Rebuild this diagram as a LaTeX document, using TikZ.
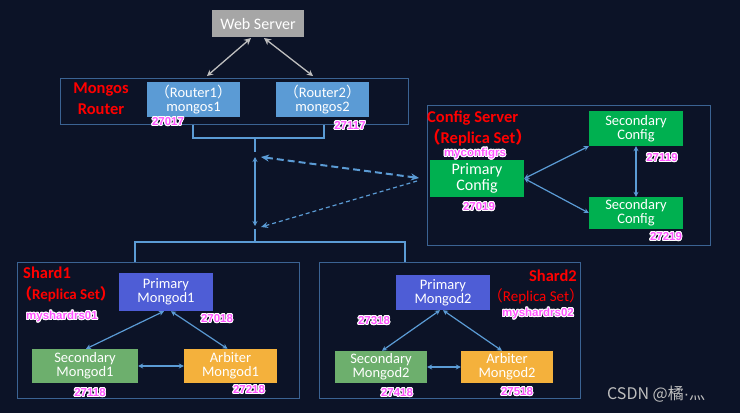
\documentclass[tikz,border=0pt]{standalone}
\usepackage{fontspec}
\setmainfont{Carlito}
\newfontfamily\cjk{Noto Sans CJK SC}
\newfontfamily\portfont{Liberation Sans}
\usepackage[copies]{contour}
\contourlength{0.9pt}
\contournumber{16}
\usetikzlibrary{arrows.meta}
\definecolor{bg}{HTML}{0C1327}
\definecolor{framec}{HTML}{3B6393}
\definecolor{linkc}{HTML}{5B9BD5}
\definecolor{routerc}{HTML}{5B9BD5}
\definecolor{cfgc}{HTML}{00B050}
\definecolor{primc}{HTML}{4E5DD6}
\definecolor{secc}{HTML}{6DAF6D}
\definecolor{arbc}{HTML}{F4B13C}
\definecolor{webc}{HTML}{A6A6A6}
\definecolor{portc}{HTML}{FF55FF}
\definecolor{webarr}{HTML}{BFBFBF}
\newcommand{\lp}{{\cjk （}}
\newcommand{\rp}{{\cjk ）}}
\newcommand{\portlabel}[1]{\contour{white}{\textcolor{portc}{#1}}}
\tikzset{
  box/.style={draw=none, inner sep=0pt, align=center, text=white, font=\fontsize{14.5}{14}\selectfont},
  framebox/.style={draw=framec, line width=1pt, inner sep=0pt},
  link/.style={draw=linkc, line width=1.2pt, {Stealth[length=5pt,width=5pt]}-{Stealth[length=5pt,width=5pt]}},
  plain/.style={draw=linkc, line width=1.2pt},
  port/.style={font=\portfont\bfseries\fontsize{11.5}{12}\selectfont, inner sep=0pt},
  redlab/.style={text=red, font=\bfseries\fontsize{16.5}{17}\selectfont, inner sep=0pt},
  webarrow/.style={draw=webarr, line width=1.3pt, {Stealth[length=7pt,width=7pt]}-{Stealth[length=6pt,width=6pt]}}
}
\begin{document}
\begin{tikzpicture}[x=1pt,y=-1pt]
\useasboundingbox (0,0) rectangle (740,413);
\fill[bg] (0,0) rectangle (740,413);

% Web server
\node[box, fill=webc, minimum width=92pt, minimum height=27pt, font=\fontsize{16}{16}\selectfont] (web) at (258,23.5) {Web Server};

% Mongos router frame
\node[framebox, minimum width=348pt, minimum height=46pt] (mongos) at (234,101) {};
\node[redlab, align=center, font=\bfseries\fontsize{16.5}{21}\selectfont] (mlabel) at (101,99) {Mongos\\Router};
\node[box, fill=routerc, minimum width=93pt, minimum height=35pt] (r1) at (193.5,99.5) {\lp Router1\rp\\mongos1};
\node[box, fill=routerc, minimum width=93pt, minimum height=35pt] (r2) at (322.5,99.5) {\lp Router2\rp\\mongos2};
\node[port] (p27017) at (168,122) {\portlabel{27017}};
\node[port] (p27117) at (350,126) {\portlabel{27117}};

\coordinate (w1) at (251,38);
\coordinate (w2) at (264,38);
\coordinate (m1) at (207,76);
\coordinate (m2) at (313,76);
\draw[webarrow] (w1) -- (m1);
\draw[webarrow] (w2) -- (m2);

% bracket under routers
\coordinate (bl) at (193,124.5);
\coordinate (br) at (324,124.5);
\coordinate (bm) at (255,138);
\coordinate (bm2) at (255,152);
\draw[plain] (bl) -- (193,138) -- (324,138) -- (br);
\draw[plain] (bm) -- (bm2);
\coordinate (va) at (255,157);
\coordinate (vb) at (255,226);
\draw[link] (va) -- (vb);
\coordinate (ta) at (255,229);
\coordinate (tb) at (255,242);
\draw[plain] (ta) -- (tb);
\coordinate (sl) at (135,262);
\coordinate (sr) at (405,262);
\draw[plain] (sl) -- (135,242) -- (405,242) -- (sr);

% dashed links to config
\coordinate (da) at (261,157);
\coordinate (db) at (419,178);
\coordinate (dc) at (417,181);
\coordinate (dd) at (261,227);
\draw[draw=linkc, line width=2pt, dash pattern=on 7pt off 4pt, {Stealth[length=8pt,width=7pt]}-{Stealth[length=8pt,width=7pt]}] (da) -- (db);
\draw[draw=linkc, line width=1.2pt, dash pattern=on 4pt off 3pt, -{Stealth[length=7pt,width=6pt]}] (dc) -- (dd);

% Config server
\node[framebox, minimum width=283pt, minimum height=140pt] (cfgframe) at (568.5,175) {};
\node[redlab, anchor=west] (cfglabel) at (427,118) {Config Server};
\node[redlab] (cfgrs) at (478,138) {\lp Replica Set\rp};
\node[port] (myconfigrs) at (475,154) {\portlabel{myconfigrs}};
\node[box, fill=cfgc, minimum width=94pt, minimum height=37pt, font=\fontsize{16}{16}\selectfont] (pc) at (477,178.5) {Primary\\Config};
\node[box, fill=cfgc, minimum width=94pt, minimum height=35pt] (sc1) at (636,128.5) {Secondary\\Config};
\node[box, fill=cfgc, minimum width=94pt, minimum height=32pt] (sc2) at (636,213) {Secondary\\Config};
\node[port] (p27019) at (479,207) {\portlabel{27019}};
\node[port] (p27119) at (662,158) {\portlabel{27119}};
\node[port] (p27219) at (666,237) {\portlabel{27219}};
\draw[link] (pc.east) -- (sc1.south west);
\draw[link] (pc.east) -- (sc2.west);
\draw[link] (sc1.south) -- (sc2.north);

% Shard1
\node[framebox, minimum width=282pt, minimum height=136pt] (shard1) at (158,330) {};
\node[redlab, anchor=west] (s1label) at (23,273) {Shard1};
\node[redlab, font=\bfseries\fontsize{15}{16}\selectfont] (s1rs) at (66,294) {\lp Replica Set\rp};
\node[port] (rs01) at (62,317) {\portlabel{myshardrs01}};
\node[box, fill=primc, minimum width=94pt, minimum height=38pt] (pm1) at (166,292) {Primary\\Mongod1};
\node[box, fill=secc, minimum width=106pt, minimum height=34pt] (sm1) at (85,366) {Secondary\\Mongod1};
\node[box, fill=arbc, minimum width=93pt, minimum height=34pt] (am1) at (230.5,366) {Arbiter\\Mongod1};
\node[port] (p27018) at (217,319) {\portlabel{27018}};
\node[port] (p27118) at (90,393) {\portlabel{27118}};
\node[port] (p27218) at (249,390) {\portlabel{27218}};
\draw[link] ([xshift=-2pt]pm1.south) -- ([xshift=1pt]sm1.north);
\draw[link] ([xshift=5pt]pm1.south) -- ([xshift=-3pt]am1.north);
\draw[link] (sm1.east) -- (am1.west);

% Shard2
\node[framebox, minimum width=261pt, minimum height=136pt] (shard2) at (449.5,330) {};
\node[redlab, anchor=east] (s2label) at (577,276) {Shard2};
\node[redlab, font=\fontsize{15}{16}\selectfont] (s2rs) at (536,296) {\lp Replica Set\rp};
\node[port] (rs02) at (538,314) {\portlabel{myshardrs02}};
\node[box, fill=primc, minimum width=94pt, minimum height=35pt] (pm2) at (443,292.5) {Primary\\Mongod2};
\node[box, fill=secc, minimum width=92pt, minimum height=32pt] (sm2) at (381,367) {Secondary\\Mongod2};
\node[box, fill=arbc, minimum width=92pt, minimum height=32pt] (am2) at (507,367) {Arbiter\\Mongod2};
\node[port] (p27318) at (374,321) {\portlabel{27318}};
\node[port] (p27418) at (397,393) {\portlabel{27418}};
\node[port] (p27518) at (517,392) {\portlabel{27518}};
\draw[link] ([xshift=-3pt]pm2.south) -- ([xshift=1pt]sm2.north);
\draw[link] ([xshift=0pt]pm2.south) -- ([xshift=-5pt]am2.north);
\draw[link] (sm2.east) -- (am2.west);

% watermark
\node[text=webarr, font=\cjk\fontsize{16}{16}\selectfont, anchor=west, inner sep=0pt] (csdn) at (607,394) {CSDN @橘{\portfont ·}灬};
\end{tikzpicture}
\end{document}
